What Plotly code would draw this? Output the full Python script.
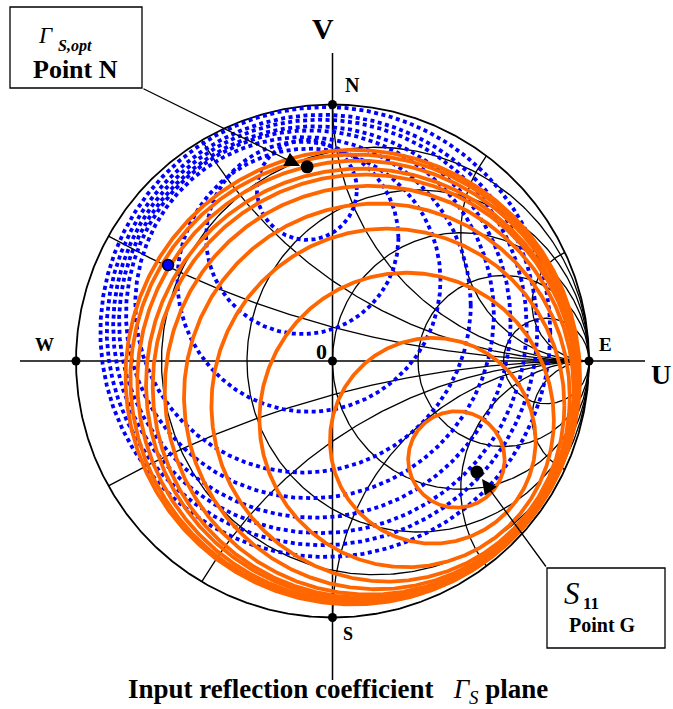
import numpy as np
import plotly.graph_objects as go

# ---------------- chart values (reflection-coefficient plane, |Gamma| <= 1) ----------------
r_values = [0.2, 0.5, 1.0, 2.0, 5.0]                                   # constant-resistance circles
x_values = [0.26, 0.57, 1.0, 2.0, 4.5, -0.26, -0.57, -1.0, -2.0, -4.5]  # constant-reactance arcs

# blue dotted circles: centre (u, v) and radius
blue_cu = [-0.100, -0.118, -0.092, -0.115, -0.088, -0.069, -0.049, -0.041, -0.028]
blue_cv = [0.667, 0.480, 0.315, 0.219, 0.182, 0.152, 0.135, 0.121, 0.113]
blue_rad = [0.195, 0.375, 0.513, 0.654, 0.717, 0.763, 0.806, 0.839, 0.877]

# orange circles: centre (u, v) and radius
orange_cu = [0.483, 0.391, 0.289, 0.216, 0.173, 0.143, 0.124, 0.113, 0.099, 0.087, 0.079]
orange_cv = [-0.384, -0.311, -0.230, -0.172, -0.138, -0.114, -0.098, -0.090, -0.079, -0.070, -0.063]
orange_rad = [0.188, 0.401, 0.574, 0.688, 0.752, 0.797, 0.825, 0.840, 0.860, 0.875, 0.886]

gamma_opt = [-0.099, 0.757]      # point N
s11 = [0.563, -0.433]            # point G
blue_point = [-0.641, 0.374]
compass_u = [0.0, 1.0, 0.0, -1.0, 0.0]
compass_v = [1.0, 0.0, -1.0, 0.0, 0.0]

# ---------------- geometry helpers ----------------
SC, CX, CY = 256.5, 332.5, 361.0          # page scale used only for layout placement
W, H = 673, 709


def pu(px):
    return (px - CX) / SC


def pv(py):
    return (CY - py) / SC


def circle_pts(cu, cv, rad, n=500):
    t = np.linspace(0, 2 * np.pi, n)
    return list(cu + rad * np.cos(t)), list(cv + rad * np.sin(t))


def join(pieces):
    xs, ys = [], []
    for x, y in pieces:
        xs += list(x) + [None]
        ys += list(y) + [None]
    return xs, ys


grid = []
for r in r_values:
    grid.append(circle_pts(r / (1 + r), 0.0, 1 / (1 + r)))
for xv in x_values:
    rr = np.concatenate([[0.0], np.logspace(-3, 3.5, 600)])
    z = rr + 1j * xv
    g = (z - 1) / (z + 1)
    grid.append((g.real, g.imag))
gx, gy = join(grid)

ux, uy = circle_pts(0.0, 0.0, 1.0, 800)

blue = [circle_pts(cu, cv, rd, 700) for cu, cv, rd in zip(blue_cu, blue_cv, blue_rad)]
bx, by = join(blue)

orange = [circle_pts(cu, cv, rd, 700) for cu, cv, rd in zip(orange_cu, orange_cv, orange_rad)]
ox, oy = join(orange)

fig = go.Figure()
fig.add_trace(go.Scatter(x=gx, y=gy, mode="lines", line=dict(color="black", width=1.3), hoverinfo="skip"))
fig.add_trace(go.Scatter(x=ux, y=uy, mode="lines", line=dict(color="black", width=1.8), hoverinfo="skip"))
fig.add_trace(go.Scatter(x=bx, y=by, mode="lines",
                         line=dict(color="#0000FF", width=3.8, dash="4px,3.5px"), hoverinfo="skip"))
fig.add_trace(go.Scatter(x=ox, y=oy, mode="lines", line=dict(color="#FF6600", width=3.8), hoverinfo="skip"))
fig.add_trace(go.Scatter(x=compass_u, y=compass_v, mode="markers",
                         marker=dict(color="black", size=9), hoverinfo="skip"))
fig.add_trace(go.Scatter(x=[gamma_opt[0], s11[0]], y=[gamma_opt[1], s11[1]], mode="markers",
                         marker=dict(color="black", size=13), hoverinfo="skip"))
fig.add_trace(go.Scatter(x=[blue_point[0]], y=[blue_point[1]], mode="markers",
                         marker=dict(color="#0000FF", size=11, line=dict(color="black", width=1.5)),
                         hoverinfo="skip"))

# axes of the plane
fig.add_shape(type="line", x0=pu(20), x1=pu(645), y0=0, y1=0, line=dict(color="black", width=1.5), layer="below")
fig.add_shape(type="line", x0=0, x1=0, y0=pv(53), y1=pv(680), line=dict(color="black", width=1.5), layer="below")

# label boxes
fig.add_shape(type="rect", x0=pu(10), x1=pu(142), y0=pv(7), y1=pv(88),
              line=dict(color="black", width=1.3), fillcolor="white")
fig.add_shape(type="rect", x0=pu(547), x1=pu(665), y0=pv(568), y1=pv(648),
              line=dict(color="black", width=1.3), fillcolor="white")

# leader arrows
fig.add_annotation(x=pu(300), y=pv(166), ax=pu(142), ay=pv(88), xref="x", yref="y", axref="x", ayref="y",
                   text="", showarrow=True, arrowhead=2, arrowsize=2.3, arrowwidth=1.3, arrowcolor="black")
fig.add_annotation(x=pu(482), y=pv(479), ax=pu(547), ay=pv(568), xref="x", yref="y", axref="x", ayref="y",
                   text="", showarrow=True, arrowhead=2, arrowsize=2.3, arrowwidth=1.3, arrowcolor="black")

FONT = "Liberation Serif"


def label(px, py, text, size, xanchor="center"):
    fig.add_annotation(x=pu(px), y=pv(py), xref="x", yref="y", text=text, showarrow=False,
                       xanchor=xanchor, yanchor="middle", font=dict(family=FONT, size=size, color="black"))


label(323, 28, "<b>V</b>", 30)
label(661, 374, "<b>U</b>", 28)
label(352, 85, "<b>N</b>", 20)
label(605, 344, "<b>E</b>", 19)
label(44, 344, "<b>W</b>", 19)
label(348, 634, "<b>S</b>", 18)
label(321, 351, "<b>0</b>", 22)
label(36, 35, "<i>Γ</i>", 23, "left")
label(56, 46, "<b><i>S,opt</i></b>", 16, "left")
label(75, 69, "<b>Point N</b>", 26)
label(562, 593, "<i>S</i>", 31, "left")
label(581, 603, "<b>11</b>", 17, "left")
label(602, 625, "<b>Point G</b>", 20)
label(338, 691, "<b>Input reflection coefficient</b>\u00a0\u00a0 <i>Γ</i><sub><i>S</i></sub><b> plane</b>", 27)

fig.update_layout(
    width=W, height=H, margin=dict(l=0, r=0, t=0, b=0),
    paper_bgcolor="white", plot_bgcolor="white", showlegend=False,
    xaxis=dict(range=[pu(0), pu(W)], visible=False, fixedrange=True),
    yaxis=dict(range=[pv(H), pv(0)], visible=False, fixedrange=True),
)

fig.write_html("out.html", config={"displayModeBar": False},
               post_script="document.body.style.margin='0px';")
